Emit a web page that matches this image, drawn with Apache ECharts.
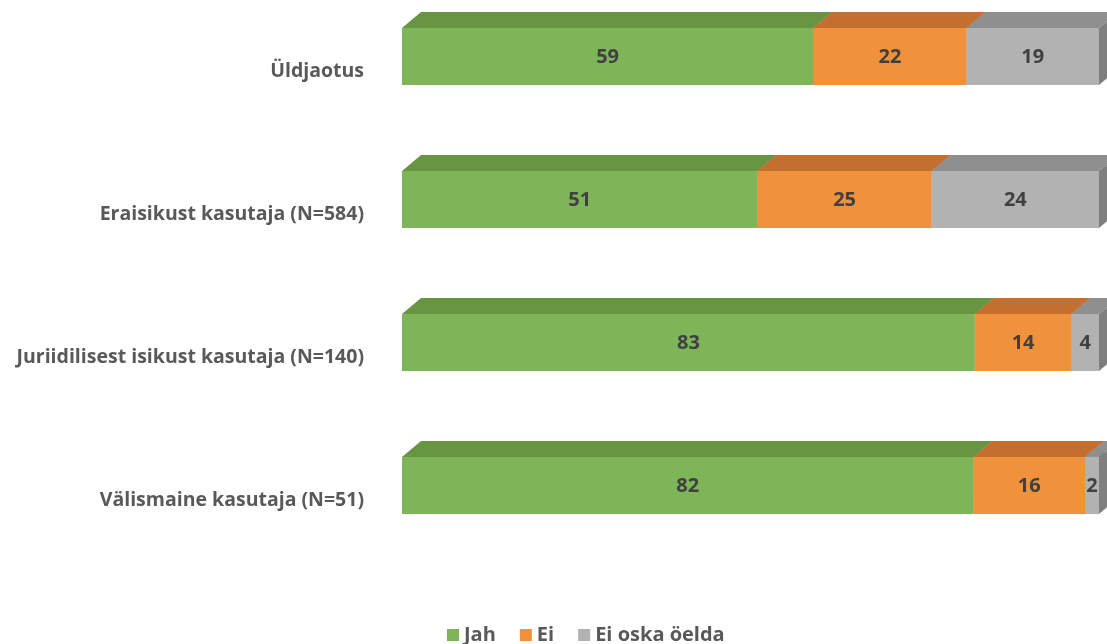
<!DOCTYPE html>
<html>
<head>
<meta charset="utf-8">
<script src="https://cdn.jsdelivr.net/npm/echarts@6/dist/echarts.min.js"></script>
<style>html,body{margin:0;padding:0;background:#fff}#c{width:1107px;height:644px}</style>
</head>
<body>
<div id="c"></div>
<script>
const categories = ['Üldjaotus', 'Eraisikust kasutaja (N=584)', 'Juriidilisest isikust kasutaja (N=140)', 'Välismaine kasutaja (N=51)'];
const seriesNames = ['Jah', 'Ei', 'Ei oska öelda'];
const jah = [59, 51, 83, 82];
const ei = [22, 25, 14, 16];
const eiOska = [19, 24, 4, 2];

const values = [jah, ei, eiOska];
const frontColors = ['#7FB559', '#F0913B', '#B2B2B2'];
const topColors = ['#679542', '#C46F2E', '#8F8F8F'];
const sideColors = ['#5E8A3C', '#B0642A', '#7F7F7F'];

const totals = categories.map((_, i) => values.reduce((a, arr) => a + arr[i], 0));
const cum = categories.map(() => 0);
const seriesData = values.map(arr => arr.map((v, i) => {
  const s = cum[i] / totals[i] * 100;
  cum[i] += v;
  const e = cum[i] / totals[i] * 100;
  return [s, e, i, v];
}));

const FONT = '"Open Sans"';
const DX = 19, DZ = 16, SHIFT = 15;

function makeRender(si) {
  return function (params, api) {
    const s = api.value(0), e = api.value(1), c = api.value(2), v = api.value(3);
    const p0 = api.coord([s, c]);
    const p1 = api.coord([e, c]);
    const band = api.size([0, 1])[1];
    const h = band * 0.4;
    const x0 = p0[0], x1 = p1[0];
    const yT = p0[1] - h / 2 - SHIFT, yB = yT + h;
    return {
      type: 'group',
      children: [
        { type: 'polygon', shape: { points: [[x0, yT], [x0 + DX, yT - DZ], [x1 + DX, yT - DZ], [x1, yT]] }, style: { fill: topColors[si] } },
        { type: 'polygon', shape: { points: [[x1, yT], [x1 + DX, yT - DZ], [x1 + DX, yB - DZ], [x1, yB]] }, style: { fill: sideColors[si] } },
        { type: 'rect', shape: { x: x0, y: yT, width: x1 - x0, height: h }, style: { fill: frontColors[si] } },
        { type: 'text', style: { x: (x0 + x1) / 2, y: (yT + yB) / 2 + 1, text: String(v), align: 'center', verticalAlign: 'middle', fill: '#404040', font: 'bold 20px ' + FONT } }
      ]
    };
  };
}

const chart = echarts.init(document.getElementById('c'));
chart.setOption({
  animation: false,
  grid: { left: 402, right: 8, top: 0, height: 572 },
  xAxis: { type: 'value', min: 0, max: 100, show: false },
  yAxis: {
    type: 'category', data: categories, inverse: true,
    axisLine: { show: false }, axisTick: { show: false }, splitLine: { show: false },
    axisLabel: { margin: 38, color: '#595959', fontFamily: FONT, fontWeight: 'bold', fontSize: 19.5 }
  },
  legend: {
    bottom: -6, left: 442, itemWidth: 12, itemHeight: 12, itemGap: 24, icon: 'rect',
    data: seriesNames,
    textStyle: { color: '#595959', fontFamily: FONT, fontWeight: 'bold', fontSize: 20 }
  },
  series: seriesNames.map((name, si) => ({
    name: name,
    type: 'custom',
    renderItem: makeRender(si),
    itemStyle: { color: frontColors[si] },
    encode: { x: [0, 1], y: 2 },
    clip: false,
    data: seriesData[si]
  }))
});
</script>
</body>
</html>
